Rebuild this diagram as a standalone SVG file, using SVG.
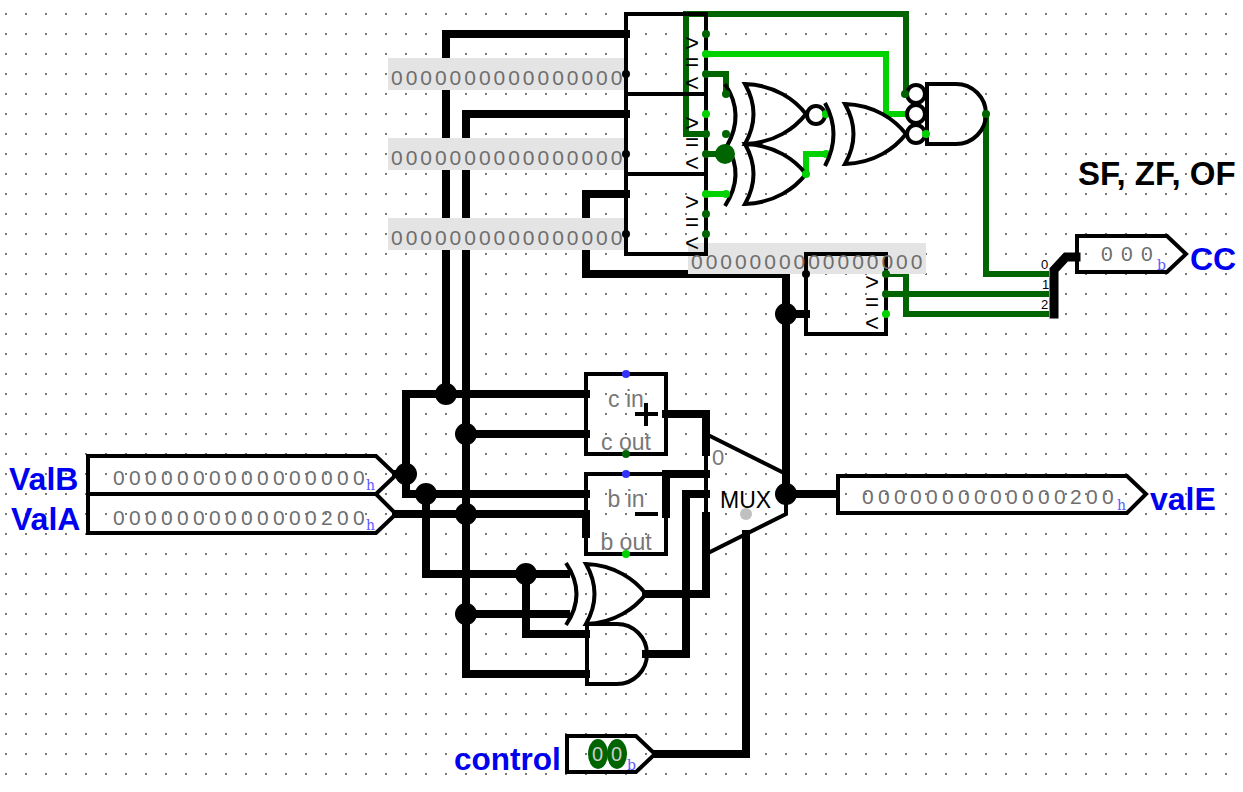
<svg xmlns="http://www.w3.org/2000/svg" width="1243" height="792" viewBox="0 0 1243 792">
<style>
text{font-family:"Liberation Sans",Arial,sans-serif}
.o{fill:none;stroke:#000;stroke-width:4;stroke-linejoin:miter}
.w{fill:none;stroke:#000;stroke-width:8;stroke-linecap:square;stroke-linejoin:miter}
.dg{fill:none;stroke:#006400;stroke-width:6;stroke-linecap:square}
.lg{fill:none;stroke:#00d200;stroke-width:6;stroke-linecap:square}
.j{fill:#000}
.z{fill:#6e6e6e;font-size:21px;letter-spacing:2.97px}
.v{fill:#6e6e6e;font-size:21px;letter-spacing:4.32px}
.u{fill:#5a5aff;font-size:14px;font-family:"DejaVu Serif",serif}
.n{fill:#0000f0;font-weight:bold;font-size:32px}
.g{fill:#777;font-size:23px;text-anchor:middle}
.c{fill:#000;font-size:24px;text-anchor:middle}
.band{fill:#e4e4e4}
</style>
<defs>
<pattern id="grid" width="20" height="20" patternUnits="userSpaceOnUse"><rect x="5" y="13" width="2" height="2" fill="#777"/></pattern>
</defs>
<rect width="1243" height="792" fill="#fff"/>
<rect width="1243" height="792" fill="url(#grid)"/>
<g id="connectors">
<path class="w" d="M626,34H446V394M626,114H466V674H586M626,194H586V274H786V494"/>
<path class="w" d="M586,394H406V494H586M396,474H406M396,514H586V534M466,434H586M466,614H566M426,494V574H566M526,574V634H586"/>
<path class="w" d="M666,414H706V452M666,474H706M666,474V514M686,494H706M686,494V654H646M646,594H706V516"/>
<path class="w" d="M786,494H836M786,314H806M746,534V754H656"/>
<path class="dg" d="M706,134H686V14H906V94M706,74H726V94M706,154H726M986,114V274H1046M886,294H1046M886,274H906V314H1046"/>
<path class="lg" d="M706,54H886V114H906M706,194H726M806,174V154H826"/>
<path d="M1054,314V270L1066,257H1076" fill="none" stroke="#000" stroke-width="9" stroke-linecap="square"/>
</g>
<g id="band-a"><rect class="band" x="388" y="58" width="238" height="32"/><text class="z" x="391" y="85">0000000000000000</text></g>
<g id="band-b"><rect class="band" x="388" y="138" width="238" height="32"/><text class="z" x="391" y="165">0000000000000000</text></g>
<g id="band-c"><rect class="band" x="388" y="218" width="238" height="32"/><text class="z" x="391" y="245">0000000000000000</text></g>
<g id="band-d"><rect class="band" x="688" y="243" width="238" height="31"/></g>
<g id="comparator-1">
<rect class="o" x="626" y="14" width="80" height="80"/>
<text class="c" x="692" y="51">&gt;</text><text class="c" x="692" y="70">=</text><text class="c" x="692" y="91">&lt;</text>
<circle class="j" cx="626" cy="74" r="4"/><circle cx="706" cy="34" r="4" fill="#006400"/><circle cx="706" cy="54" r="4" fill="#00d200"/><circle cx="706" cy="74" r="4" fill="#006400"/>
</g>
<g id="comparator-2">
<rect class="o" x="626" y="94" width="80" height="80"/>
<text class="c" x="692" y="131">&gt;</text><text class="c" x="692" y="150">=</text><text class="c" x="692" y="171">&lt;</text>
<circle class="j" cx="626" cy="154" r="4"/><circle cx="706" cy="114" r="4" fill="#00d200"/><circle cx="706" cy="134" r="4" fill="#006400"/><circle cx="706" cy="154" r="4" fill="#006400"/>
</g>
<g id="comparator-3">
<rect class="o" x="626" y="174" width="80" height="80"/>
<text class="c" x="692" y="210">&gt;</text><text class="c" x="692" y="230">=</text><text class="c" x="692" y="251">&lt;</text>
<circle class="j" cx="626" cy="234" r="4"/><circle cx="706" cy="194" r="4" fill="#00d200"/><circle cx="706" cy="214" r="4" fill="#006400"/><circle cx="706" cy="234" r="4" fill="#006400"/>
</g>
<g id="xor-upper">
<path class="o" d="M725,84Q745,114 727,146"/>
<path class="o" d="M745,84C775,85 795,100 806,114C795,128 775,143 745,144Q762,114 745,84Z" fill="#fff"/>
<circle class="o" cx="816" cy="115" r="9" fill="#fff"/>
<circle cx="726" cy="94" r="4" fill="#006400"/><circle cx="726" cy="134" r="4" fill="#006400"/><circle cx="826" cy="114" r="4" fill="#00d200"/>
</g>
<g id="xor-lower">
<path class="o" d="M727,146Q745,175 725,206"/>
<path class="o" d="M745,144C775,145 795,160 806,174C795,188 775,203 745,204Q762,174 745,144Z"/>
<circle cx="725" cy="154" r="10" fill="#006400"/><circle cx="726" cy="194" r="4" fill="#00d200"/><circle cx="806" cy="174" r="4" fill="#00d200"/><circle cx="826" cy="154" r="4" fill="#00d200"/>
</g>
<g id="nor">
<path class="o" d="M825,103Q842,134 825,166"/>
<path class="o" d="M845,104C875,105 895,120 906,134C895,148 875,163 845,164Q862,134 845,104Z"/>
</g>
<g id="and-top">
<path class="o" d="M927,84H956A30,30 0 0 1 956,144H927Z"/>
<circle class="o" cx="916" cy="94" r="9"/><circle class="o" cx="916" cy="114" r="9"/><circle class="o" cx="916" cy="134" r="9"/>
<circle cx="905" cy="94" r="4" fill="#006400"/><circle cx="926" cy="134" r="4" fill="#00d200"/><circle cx="986" cy="114" r="4" fill="#006400"/>
</g>
<g id="comparator-4">
<rect class="o" x="806" y="254" width="80" height="80"/>
<text class="c" x="872" y="290">&gt;</text><text class="c" x="872" y="310">=</text><text class="c" x="872" y="331">&lt;</text>
<circle class="j" cx="806" cy="274" r="4"/><circle cx="886" cy="274" r="4" fill="#006400"/><circle cx="886" cy="294" r="4" fill="#006400"/><circle cx="886" cy="314" r="4" fill="#00d200"/>
</g>
<g id="band-d-text"><text class="z" x="691" y="269">0000000000000000</text></g>
<g id="splitter">
<circle cx="1026" cy="274" r="3" fill="#006400"/><circle cx="1026" cy="294" r="3" fill="#006400"/><circle cx="1026" cy="314" r="3" fill="#006400"/>
<text x="1041" y="269" font-size="13">0</text><text x="1042" y="289" font-size="13">1</text><text x="1041" y="309" font-size="13">2</text>
</g>
<g id="CC">
<path class="o" d="M1077,236H1167L1186,254L1167,272H1077Z"/>
<text class="v" x="1101" y="261" style="letter-spacing:8.3px">000</text><text class="u" x="1157" y="270">b</text>
<text class="n" x="1190" y="270">CC</text>
</g>
<text x="1078" y="185" font-size="33" font-weight="bold" fill="#000">SF, ZF, OF</text>
<g id="adder">
<rect class="o" x="586" y="374" width="80" height="80"/>
<text class="g" x="626" y="407">c in</text><text class="g" x="626" y="450">c out</text>
<path d="M635,414H658M646,403V426" fill="none" stroke="#000" stroke-width="4"/>
<circle cx="626" cy="374" r="4" fill="#3232ff"/><circle cx="626" cy="454" r="4" fill="#006400"/>
</g>
<g id="subtractor">
<rect class="o" x="586" y="474" width="80" height="80"/>
<text class="g" x="626" y="507">b in</text><text class="g" x="626" y="550">b out</text>
<path d="M635,514H658" fill="none" stroke="#000" stroke-width="4"/>
<circle cx="626" cy="474" r="4" fill="#3232ff"/><circle cx="626" cy="554" r="4" fill="#00d200"/>
</g>
<g id="xor-alu">
<path class="o" d="M566,563Q587,594 566,625"/>
<path class="o" d="M586,564C615,565 635,580 646,594C635,608 615,623 586,624Q603,594 586,564Z"/>
</g>
<g id="and-alu">
<path class="o" d="M587,624H617A30,30 0 0 1 617,684H587Z"/>
<circle class="j" cx="646" cy="654" r="4"/>
</g>
<g id="mux">
<path class="o" d="M706,434L786,474V514L706,554Z"/>
<text x="712" y="465" font-size="22" fill="#777">0</text>
<text x="720" y="508" font-size="23" fill="#000">MUX</text>
<circle cx="746" cy="514" r="6" fill="#c0c0c0"/>
</g>
<g id="junctions">
<circle class="j" cx="446" cy="394" r="11"/><circle class="j" cx="466" cy="434" r="11"/><circle class="j" cx="406" cy="474" r="11"/><circle class="j" cx="426" cy="494" r="11"/><circle class="j" cx="466" cy="514" r="11"/><circle class="j" cx="526" cy="574" r="11"/><circle class="j" cx="466" cy="614" r="11"/><circle class="j" cx="786" cy="494" r="11"/><circle class="j" cx="786" cy="314" r="11"/>
</g>
<g id="ValB">
<path class="o" d="M88,456H376L396,475L376,494H88Z"/>
<text class="v" x="113" y="485">0000000000000000</text><text class="u" x="366" y="490">h</text>
<text class="n" x="9" y="490">ValB</text>
</g>
<g id="ValA">
<path class="o" d="M88,494H376L396,514L376,533H88Z"/>
<text class="v" x="113" y="525">0000000000000200</text><text class="u" x="366" y="530">h</text>
<text class="n" x="11" y="530">ValA</text>
</g>
<g id="valE">
<path class="o" d="M838,476H1127L1146,494L1127,513H838Z"/>
<text class="v" x="862" y="504">0000000000000200</text><text class="u" x="1117" y="510">h</text>
<text class="n" x="1150" y="510">valE</text>
</g>
<g id="control">
<path class="o" d="M567,736H636L655,754L636,772H567Z"/>
<ellipse cx="598" cy="754" rx="10" ry="15" fill="#006400"/><ellipse cx="617" cy="754" rx="10" ry="15" fill="#006400"/>
<text x="592" y="761" font-size="20" fill="#ccc">0</text><text x="611" y="761" font-size="20" fill="#ccc">0</text>
<text class="u" x="627" y="770">b</text>
<text class="n" x="454" y="770" style="font-size:31.5px">control</text>
</g>
</svg>
